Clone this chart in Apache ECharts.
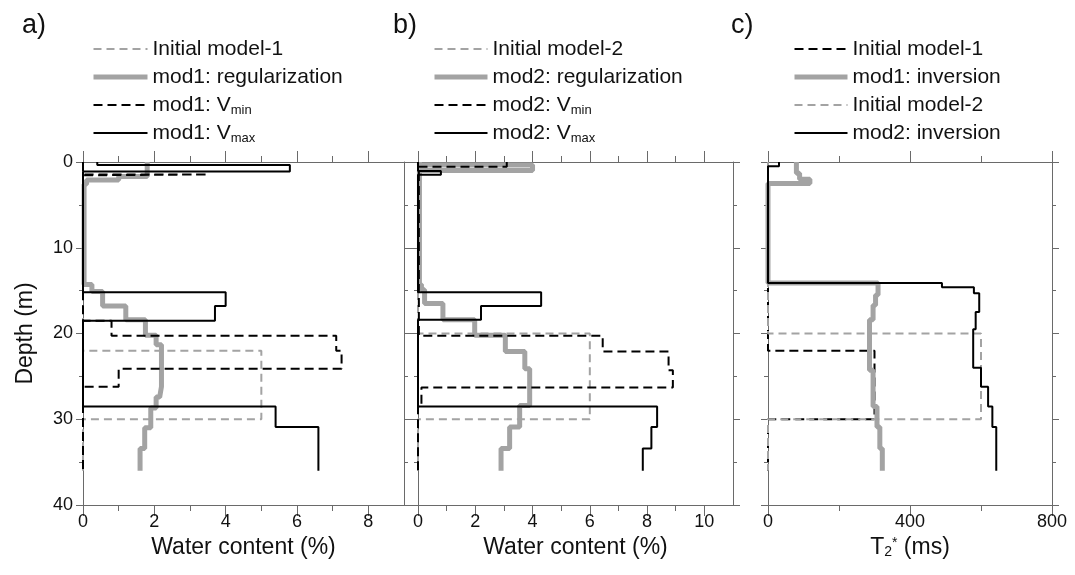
<!DOCTYPE html>
<html>
<head>
<meta charset="utf-8">
<script src="https://cdn.jsdelivr.net/npm/echarts@6/dist/echarts.min.js"></script>
<style>
html, body { margin: 0; padding: 0; background: #fff; }
#chart { width: 1075px; height: 575px; }
</style>
</head>
<body>
<div id="chart"></div>
<script>
// layer boundaries (depth, m) and one value per layer between them

// a) water content (%), model 1
const aInitDepth = [0, 22, 30, 36]
const aInitVal = [0, 5, 0]
const aRegDepth = [0, 1.7, 2.1, 2.6, 14.3, 15.1, 16.8, 18.4, 20.2, 21.3, 26.2, 27.4, 28.7, 31.0, 33.4, 36]
const aRegVal = [1.8, 1.0, 0.1, 0.03, 0.25, 0.55, 1.2, 1.75, 2.05, 2.2, 2.15, 2.05, 1.9, 1.73, 1.6]
const aMinDepth = [0, 1.45, 1.55, 18.5, 20.25, 22, 24.1, 26.2, 36]
const aMinVal = [0, 3.5, 0, 0.8, 7.1, 7.25, 1.0, 0]
const aMaxDepth = [0, 0.35, 1.1, 15.2, 16.8, 18.5, 28.5, 30.9, 36]
const aMaxVal = [0.4, 5.8, 0, 4.0, 3.7, 0, 5.4, 6.6]

// b) water content (%), model 2
const bInitDepth = [0, 20, 30, 36]
const bInitVal = [0, 6, 0]
const bRegDepth = [0, 0.35, 1.0, 14.3, 14.9, 16.5, 18.4, 20.2, 22.1, 24.1, 28.4, 30.9, 33.4, 36]
const bRegVal = [0.05, 4.0, 0.05, 0.12, 0.23, 0.87, 1.98, 3.05, 3.73, 3.9, 3.55, 3.2, 2.9]
const bMinDepth = [0, 0.55, 20.25, 22.1, 24.3, 26.3, 28.5, 36]
const bMinVal = [3.1, 0.03, 6.45, 8.75, 8.9, 0.12, 0]
const bMaxDepth = [0, 1.05, 1.5, 15.2, 16.8, 18.4, 28.5, 30.9, 33.4, 36]
const bMaxVal = [0, 0.8, 0, 4.3, 2.2, 0, 8.35, 8.15, 7.85]

// c) T2* (ms)
const cInit1Depth = [0, 22, 30, 36]
const cInit1Val = [0, 300, 0]
const cInv1Depth = [0, 1.3, 2.0, 2.5, 14.1, 15.5, 16.7, 18.4, 24.3, 28.5, 30.9, 33.4, 36]
const cInv1Val = [80, 89, 118, 0, 310, 303, 296, 286, 296, 307, 315, 322]
const cInit2Depth = [0, 20, 30, 36]
const cInit2Val = [0, 600, 0]
const cInv2Depth = [0, 0.5, 14.1, 14.6, 15.3, 17.5, 19.5, 24, 26.2, 28.5, 30.9, 36]
const cInv2Val = [31, 0, 490, 580, 595, 585, 578, 600, 620, 632, 643]

// ticks
const aMajor = [0, 2, 4, 6, 8]
const aMinor = [1, 3, 5, 7]
const bMajor = [0, 2, 4, 6, 8, 10]
const bMinor = [1, 3, 5, 7, 9]
const cMajor = [0, 400, 800]
const cMinor = [200, 600]

const font = '"Liberation Sans", Arial, Helvetica, sans-serif'
const frame = '#6a6a6a'
const gray = '#a3a3a3'

const styles = {
  grayDash: { color: gray, width: 2, type: [8, 5] },
  grayThick: { color: gray, width: 5, type: 'solid' },
  blackDash: { color: '#000', width: 2, type: [9, 5] },
  blackSolid: { color: '#000', width: 2, type: 'solid' }
}

function steps(depth, val) {
  let pts = []
  val.forEach((v, i) => {
    pts.push([v, depth[i]])
    pts.push([v, depth[i + 1]])
  })
  return pts
}

function xAxes(grid, max, major, minor, name) {
  const base = { type: 'value', gridIndex: grid, min: 0, max: max, splitLine: { show: false } }
  const line = { onZero: false, lineStyle: { color: frame, width: 1 } }
  const tick = { lineStyle: { color: frame, width: 1 } }
  return [
    Object.assign({}, base, {
      position: 'bottom', name: name, nameLocation: 'middle', nameGap: 30,
      nameTextStyle: { fontFamily: font, fontSize: 23, color: '#111', rich: {
        sub: { fontFamily: font, fontSize: 14, color: '#111', verticalAlign: 'bottom', lineHeight: 12 },
        sup: { fontFamily: font, fontSize: 14, color: '#111', verticalAlign: 'top', lineHeight: 12 }
      } },
      axisLine: line,
      axisTick: Object.assign({ customValues: major, length: 11 }, tick),
      axisLabel: { customValues: major, fontFamily: font, fontSize: 18, color: '#111', margin: 8 }
    }),
    Object.assign({}, base, {
      position: 'bottom', axisLine: { show: false, onZero: false },
      axisTick: Object.assign({ customValues: minor, length: 6 }, tick),
      axisLabel: { show: false }
    }),
    Object.assign({}, base, {
      position: 'top', axisLine: line,
      axisTick: Object.assign({ customValues: major, length: 11 }, tick),
      axisLabel: { show: false }
    }),
    Object.assign({}, base, {
      position: 'top', axisLine: { show: false, onZero: false },
      axisTick: Object.assign({ customValues: minor, length: 6 }, tick),
      axisLabel: { show: false }
    })
  ]
}

function yAxes(grid, showLabels) {
  const base = {
    type: 'value', gridIndex: grid, inverse: true, min: 0, max: 40, interval: 10,
    splitLine: { show: false }, minorSplitLine: { show: false },
    axisLine: { onZero: false, lineStyle: { color: frame, width: 1 } },
    axisTick: { length: 7, lineStyle: { color: frame } },
    minorTick: { show: true, splitNumber: 2, length: 4, lineStyle: { color: frame } }
  }
  return [
    Object.assign({}, base, {
      position: 'left',
      name: showLabels ? 'Depth (m)' : '', nameLocation: 'middle', nameGap: 46,
      nameTextStyle: { fontFamily: font, fontSize: 23, color: '#111' },
      axisLabel: { show: showLabels, fontFamily: font, fontSize: 18, color: '#111', margin: 10 }
    }),
    Object.assign({}, base, { position: 'right', axisLabel: { show: false } })
  ]
}

// series per panel: [key, label, depth, values, style]
const panels = [
  [
    ['a1', 'Initial model-1', aInitDepth, aInitVal, 'grayDash'],
    ['a2', 'mod1: regularization', aRegDepth, aRegVal, 'grayThick'],
    ['a3', 'mod1: V{sub|min}', aMinDepth, aMinVal, 'blackDash'],
    ['a4', 'mod1: V{sub|max}', aMaxDepth, aMaxVal, 'blackSolid']
  ],
  [
    ['b1', 'Initial model-2', bInitDepth, bInitVal, 'grayDash'],
    ['b2', 'mod2: regularization', bRegDepth, bRegVal, 'grayThick'],
    ['b3', 'mod2: V{sub|min}', bMinDepth, bMinVal, 'blackDash'],
    ['b4', 'mod2: V{sub|max}', bMaxDepth, bMaxVal, 'blackSolid']
  ],
  [
    ['c1', 'Initial model-1', cInit1Depth, cInit1Val, 'blackDash'],
    ['c2', 'mod1: inversion', cInv1Depth, cInv1Val, 'grayThick'],
    ['c3', 'Initial model-2', cInit2Depth, cInit2Val, 'grayDash'],
    ['c4', 'mod2: inversion', cInv2Depth, cInv2Val, 'blackSolid']
  ]
]

const labels = {}
let series = []
let legends = []
const legendLeft = [86, 427, 787]
const legendItemWidth = [54, 53, 53]

panels.forEach((panel, k) => {
  let items = []
  panel.forEach((s) => {
    labels[s[0]] = s[1]
    const st = styles[s[4]]
    series.push({
      name: s[0],
      type: 'line',
      xAxisIndex: k * 4,
      yAxisIndex: k * 2,
      data: steps(s[2], s[3]),
      symbol: 'none',
      showSymbol: false,
      silent: true,
      lineStyle: st,
      itemStyle: { color: st.color }
    })
    // legend shows only the line, no marker
    items.push({ name: s[0], lineStyle: st, itemStyle: { color: 'rgba(0,0,0,0)', borderWidth: 0, opacity: 0 } })
  })
  legends.push({
    orient: 'vertical',
    left: legendLeft[k],
    top: 32,
    itemWidth: legendItemWidth[k],
    itemHeight: 14,
    itemGap: 4,
    selectedMode: false,
    data: items,
    formatter: (name) => labels[name],
    textStyle: {
      fontFamily: font, fontSize: 21, lineHeight: 24, color: '#111',
      rich: { sub: { fontFamily: font, fontSize: 13, lineHeight: 10, verticalAlign: 'bottom', color: '#111' } }
    }
  })
})

const chart = echarts.init(document.getElementById('chart'))
chart.setOption({
  animation: false,
  backgroundColor: '#fff',
  grid: [
    { left: 83, top: 162, width: 321, height: 343 },
    { left: 418, top: 162, width: 315, height: 343 },
    { left: 768, top: 162, width: 284, height: 343 }
  ],
  xAxis: [].concat(
    xAxes(0, 9, aMajor, aMinor, 'Water content (%)'),
    xAxes(1, 11, bMajor, bMinor, 'Water content (%)'),
    xAxes(2, 800, cMajor, cMinor, 'T{sub|2}{sup|*} (ms)')
  ),
  yAxis: [].concat(yAxes(0, true), yAxes(1, false), yAxes(2, false)),
  legend: legends,
  graphic: [
    { type: 'text', left: 22, top: 12, style: { text: 'a)', fontFamily: font, fontSize: 27, fill: '#111' } },
    { type: 'text', left: 393, top: 12, style: { text: 'b)', fontFamily: font, fontSize: 27, fill: '#111' } },
    { type: 'text', left: 731, top: 12, style: { text: 'c)', fontFamily: font, fontSize: 27, fill: '#111' } }
  ],
  series: series
})
</script>
</body>
</html>
